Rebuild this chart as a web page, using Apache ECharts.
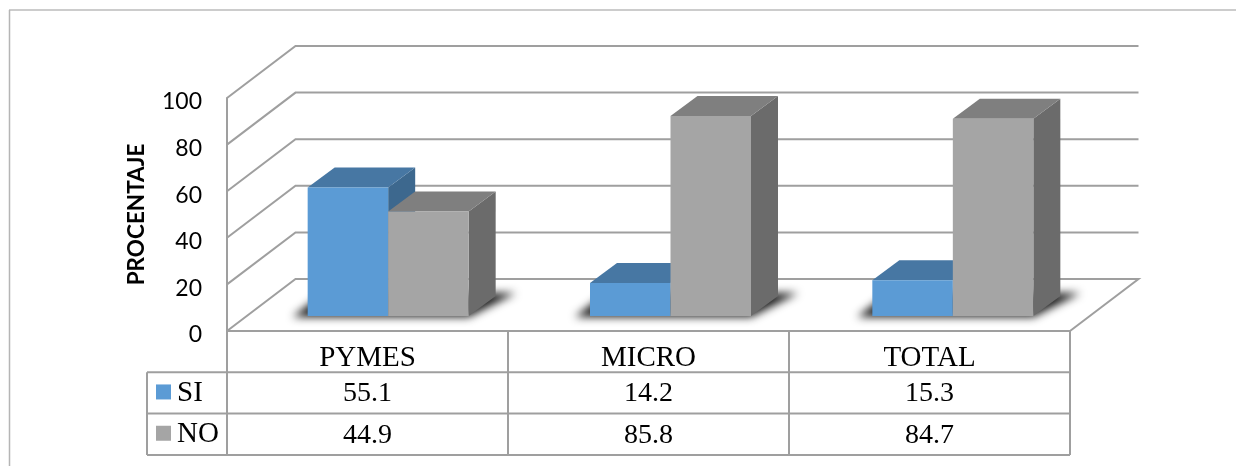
<!DOCTYPE html>
<html>
<head>
<meta charset="utf-8">
<style>
  html, body { margin: 0; padding: 0; background: #ffffff; }
  #chart { width: 1236px; height: 466px; }
</style>
<script src="https://cdn.jsdelivr.net/npm/echarts@6/dist/echarts.min.js"></script>
</head>
<body>
<div id="chart"></div>
<script>
// Survey shares per company group
const categories = ['PYMES', 'MICRO', 'TOTAL'];
const siValues = [55.1, 14.2, 15.3];
const noValues = [44.9, 85.8, 84.7];
const yTicks = [0, 20, 40, 60, 80, 100];

// Pseudo-3D projection: offsets of the back wall and of the column depth
const WALL_DX = 68.5, WALL_DY = -52;
const DEPTH_DX = 27, DEPTH_DY = -20;
const BAR_W = 80.5;

const LINE = '#9f9f9f';
const SI_COLORS = { front: '#5b9bd5', top: '#4777a3', side: '#3d688e' };
const NO_COLORS = { front: '#a5a5a5', top: '#7f7f7f', side: '#6b6b6b' };

// Table rows below the plot
const ROW_H = 41.3;
const TABLE_TOP = 331;
const TABLE_LEFT = 147;
const SERIF = '"Liberation Serif", serif';

// The soft floor shadow is the blurred canvas shadow of a shape kept off to the side
const SHADOW_SHIFT = 3000;

function renderWall(params, api) {
  const v = api.value(0);
  const band = api.size([1, 0])[0];
  const p0 = api.coord([0, v]);
  const p2 = api.coord([categories.length - 1, v]);
  const x0 = p0[0] - band / 2, x1 = p2[0] + band / 2, y = p0[1];
  const points = [[x0, y], [x0 + WALL_DX, y + WALL_DY], [x1 + WALL_DX, y + WALL_DY]];
  if (v === 0) points.push([x1, y]);
  return {
    type: 'polyline',
    shape: { points },
    style: { stroke: LINE, lineWidth: 2, fill: null }
  };
}

function renderFloorShadow(params, api) {
  const c = api.coord([api.value(0), 0]);
  const x0 = c[0] - BAR_W - SHADOW_SHIFT, x1 = c[0] + BAR_W - SHADOW_SHIFT, y = c[1];
  return {
    type: 'polygon',
    shape: { points: [[x0 - 15, y + 1], [x1, y + 1], [x1 + 47, y - 23], [x0 + 16, y - 23]] },
    style: { fill: '#111111', shadowBlur: 9, shadowColor: '#1c1c1c', shadowOffsetX: SHADOW_SHIFT }
  };
}

function columnRenderer(colors, side) {
  return function (params, api) {
    const base = api.coord([api.value(0), 0]);
    const top = api.coord([api.value(0), api.value(1)]);
    const x0 = side < 0 ? base[0] - BAR_W : base[0];
    const x1 = x0 + BAR_W;
    const yb = base[1], yt = top[1];
    return {
      type: 'group',
      children: [
        { type: 'polygon',
          shape: { points: [[x1, yb], [x1 + DEPTH_DX, yb + DEPTH_DY], [x1 + DEPTH_DX, yt + DEPTH_DY], [x1, yt]] },
          style: { fill: colors.side } },
        { type: 'polygon',
          shape: { points: [[x0, yt], [x1, yt], [x1 + DEPTH_DX, yt + DEPTH_DY], [x0 + DEPTH_DX, yt + DEPTH_DY]] },
          style: { fill: colors.top } },
        { type: 'rect',
          shape: { x: x0, y: yt, width: x1 - x0, height: yb - yt },
          style: { fill: colors.front } }
      ]
    };
  };
}

function renderTableGrid(params, api) {
  const band = api.size([1, 0])[0];
  const left = api.coord([0, 0])[0] - band / 2;
  const segs = [];
  for (let r = 1; r <= 3; r++) {
    const y = TABLE_TOP + r * ROW_H;
    segs.push([TABLE_LEFT, y, left + band * categories.length, y]);
  }
  segs.push([TABLE_LEFT, TABLE_TOP + ROW_H, TABLE_LEFT, TABLE_TOP + 3 * ROW_H]);
  for (let c = 0; c <= categories.length; c++) {
    const x = left + band * c;
    segs.push([x, TABLE_TOP, x, TABLE_TOP + 3 * ROW_H]);
  }
  return {
    type: 'group',
    children: segs.map(s => ({
      type: 'line',
      shape: { x1: s[0], y1: s[1], x2: s[2], y2: s[3] },
      style: { stroke: LINE, lineWidth: 2 }
    }))
  };
}

function rowValueRenderer(row) {
  return function (params, api) {
    const x = api.coord([api.value(0), 0])[0];
    return {
      type: 'text',
      style: {
        x, y: TABLE_TOP + (row + 1.5) * ROW_H + 1,
        text: api.value(1).toFixed(1),
        font: '28px ' + SERIF,
        fill: '#000000',
        align: 'center',
        verticalAlign: 'middle'
      }
    };
  };
}

function rowLabelRenderer(label, color, row) {
  return function () {
    const yMid = TABLE_TOP + (row + 1.5) * ROW_H;
    return {
      type: 'group',
      children: [
        { type: 'rect',
          shape: { x: 156, y: yMid - 8.5, width: 15, height: 15 },
          style: { fill: color } },
        { type: 'text',
          style: { x: 177, y: yMid, text: label, font: '29px ' + SERIF, fill: '#000000',
                   align: 'left', verticalAlign: 'middle' } }
      ]
    };
  };
}

const pair = (vals) => vals.map((v, i) => [i, v]);
const customOnFront = { type: 'custom', xAxisIndex: 0, yAxisIndex: 0, clip: false, silent: true };
const customOnBars = { type: 'custom', xAxisIndex: 1, yAxisIndex: 1, clip: false, silent: true };

const chart = echarts.init(document.getElementById('chart'), null, { renderer: 'canvas' });
chart.setOption({
  animation: false,
  backgroundColor: '#ffffff',
  graphic: [
    { type: 'line', silent: true, shape: { x1: 9, y1: 10, x2: 1236, y2: 10 }, style: { stroke: '#9a9a9a', lineWidth: 1.2 } },
    { type: 'line', silent: true, shape: { x1: 9.5, y1: 10, x2: 9.5, y2: 466 }, style: { stroke: '#b5b5b5', lineWidth: 1.5 } }
  ],
  grid: [
    { left: 227, top: 98, width: 843, height: 233 },   // front plane of the box
    { left: 247, top: 83, width: 847, height: 233 }    // plane the columns stand on
  ],
  xAxis: [
    { type: 'category', gridIndex: 0, data: categories,
      axisTick: { show: false },
      axisLine: { show: true, lineStyle: { color: LINE, width: 2 } },
      axisLabel: { color: '#000000', fontFamily: SERIF, fontSize: 29, margin: 13 } },
    { type: 'category', gridIndex: 1, data: categories, show: false }
  ],
  yAxis: [
    { type: 'value', gridIndex: 0, min: 0, max: 100, interval: 20,
      name: 'PROCENTAJE', nameLocation: 'middle', nameGap: 79, nameRotate: 90,
      nameTextStyle: { color: '#000000', fontFamily: 'Lato', fontWeight: 'bold', fontSize: 22.5 },
      splitLine: { show: false },
      axisTick: { show: false },
      axisLine: { show: true, lineStyle: { color: LINE, width: 2 } },
      axisLabel: { color: '#000000', fontFamily: 'Lato', fontSize: 23, margin: 25, verticalAlign: 'top', lineHeight: 8 } },
    { type: 'value', gridIndex: 1, min: 0, max: 100, interval: 20, show: false, splitLine: { show: false } }
  ],
  series: [
    { ...customOnFront, name: 'wall', data: yTicks.map(v => [v]), encode: { y: 0 }, renderItem: renderWall, z: 1 },
    { ...customOnBars, name: 'shadow', data: categories.map((c, i) => [i]), encode: { x: 0 }, renderItem: renderFloorShadow, z: 2 },
    { ...customOnBars, name: 'SI', data: pair(siValues), encode: { x: 0, y: 1 }, renderItem: columnRenderer(SI_COLORS, -1), z: 3 },
    { ...customOnBars, name: 'NO', data: pair(noValues), encode: { x: 0, y: 1 }, renderItem: columnRenderer(NO_COLORS, 1), z: 4 },
    { ...customOnFront, name: 'table', data: [[0, 0]], renderItem: renderTableGrid, z: 5 },
    { ...customOnFront, name: 'SI row', data: pair(siValues), encode: { x: 0, y: 1 }, renderItem: rowValueRenderer(0), z: 6 },
    { ...customOnFront, name: 'NO row', data: pair(noValues), encode: { x: 0, y: 1 }, renderItem: rowValueRenderer(1), z: 6 },
    { ...customOnFront, name: 'SI label', data: [[0, 0]], renderItem: rowLabelRenderer('SI', SI_COLORS.front, 0), z: 6 },
    { ...customOnFront, name: 'NO label', data: [[0, 0]], renderItem: rowLabelRenderer('NO', '#a5a5a5', 1), z: 6 }
  ]
});
</script>
</body>
</html>
